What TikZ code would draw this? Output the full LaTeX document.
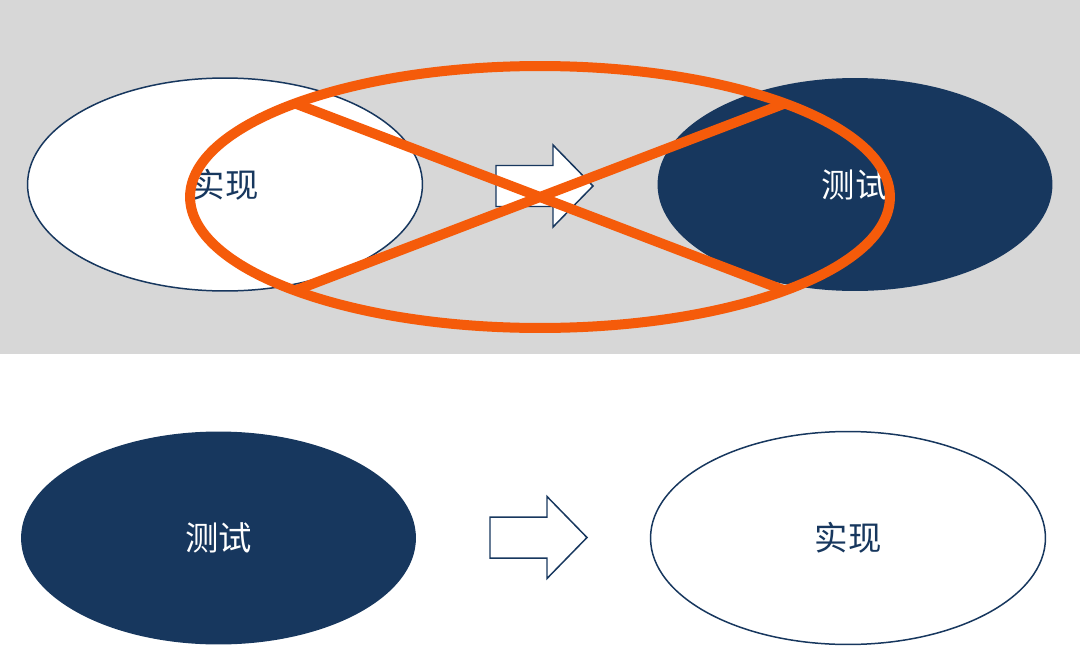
\documentclass[tikz,border=0pt]{standalone}
\usepackage{fontspec}
\newfontfamily\cjk{Noto Sans CJK SC}
\usepackage{xcolor}
\usepackage{tikz}
\usetikzlibrary{shapes.geometric}
\definecolor{navy}{HTML}{17375E}
\definecolor{bandgray}{HTML}{D7D7D7}
\definecolor{crossorange}{HTML}{F55B0A}

\begin{document}
\begin{tikzpicture}[x=0.02cm,y=-0.02cm,
  oval/.style={ellipse,minimum width=7.9cm,minimum height=4.26cm,inner sep=0pt,
    font=\cjk\fontsize{19}{19}\selectfont},
  hollowoval/.style={oval,draw=navy,line width=0.85pt,fill=white,text=navy},
  darkoval/.style={oval,fill=navy,text=white},
  cross/.style={draw=crossorange,line width=0.2cm},
  fatarrow/.pic={\draw[draw=navy,line width=0.85pt,fill=white,line join=miter]
    (0,-20.5) -- (57,-20.5) -- (57,-41) -- (97,0) -- (57,41) -- (57,20.5) -- (0,20.5) -- cycle;}]
\useasboundingbox (0,0) rectangle (1080,646);
\fill[bandgray] (0,0) rectangle (1080,354);

% upper row, crossed out
\node[hollowoval] (implA) at (225,184.5) {实现};
\node[darkoval] (testA) at (855,184.5) {测试};
\pic at (496,186) {fatarrow};

\node[cross,ellipse,minimum width=14cm,minimum height=5.24cm,inner sep=0pt] (ring) at (540,197) {};
\path (ring.center) +(-245,-93.6) coordinate (xNW) +(245,-93.6) coordinate (xNE)
                    +(-245,93.6) coordinate (xSW) +(245,93.6) coordinate (xSE);
\draw[cross] (xNW) -- (xSE);
\draw[cross] (xSW) -- (xNE);

% lower row
\node[darkoval] (testB) at (218.5,538) {测试};
\pic at (490,537.5) {fatarrow};
\node[hollowoval] (implB) at (848,538) {实现};
\end{tikzpicture}
\end{document}
